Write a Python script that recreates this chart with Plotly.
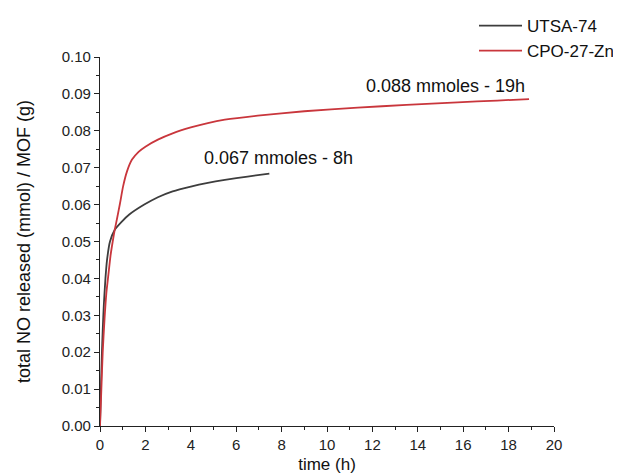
import plotly.graph_objects as go

# UTSA-74 release curve
utsa_t = [0, 0.04, 0.08, 0.12, 0.17, 0.24, 0.31, 0.44, 0.65, 0.93, 1.29, 1.95, 2.55, 3.2, 4.0, 4.75, 5.5, 6.5, 7.46]
utsa_y = [0, 0.010, 0.019, 0.026, 0.033, 0.040, 0.045, 0.050, 0.0532, 0.0552, 0.0573, 0.0600, 0.0620, 0.0636, 0.0649, 0.0659, 0.0667, 0.0676, 0.0684]

# CPO-27-Zn release curve
cpo_t = [0, 0.06, 0.12, 0.2, 0.28, 0.37, 0.46, 0.56, 0.65, 0.76, 0.88, 1.02, 1.19, 1.41, 1.7, 2.0, 2.55, 3.2, 4.0, 4.75, 5.5, 6.95, 9.0, 11.35, 13.5, 15.75, 17.5, 18.9]
cpo_y = [0, 0.010, 0.020, 0.029, 0.036, 0.041, 0.046, 0.050, 0.0532, 0.0565, 0.0603, 0.0650, 0.0690, 0.0722, 0.0743, 0.0757, 0.0776, 0.0793, 0.0809, 0.0821, 0.0830, 0.0841, 0.0853, 0.0863, 0.0870, 0.0877, 0.0882, 0.0886]

series_names = ["UTSA-74", "CPO-27-Zn"]
series_colors = ["#3d3d3d", "#c9363c"]

annot_text = ["0.067 mmoles - 8h", "0.088 mmoles - 19h"]
annot_x = [7.86, 15.2]
annot_y = [0.0725, 0.0922]

x_ticks = [0, 2, 4, 6, 8, 10, 12, 14, 16, 18, 20]
y_ticks = [0.00, 0.01, 0.02, 0.03, 0.04, 0.05, 0.06, 0.07, 0.08, 0.09, 0.10]

FONT = "Liberation Sans, Arial, sans-serif"

fig = go.Figure()
for t, y, name, col in zip([utsa_t, cpo_t], [utsa_y, cpo_y], series_names, series_colors):
    fig.add_trace(go.Scatter(x=t, y=y, mode="lines", name=name,
                             line=dict(color=col, width=1.8, shape="spline", smoothing=0.6)))

for txt, ax, ay in zip(annot_text, annot_x, annot_y):
    fig.add_annotation(x=ax, y=ay, text=txt, showarrow=False,
                       font=dict(family=FONT, size=18, color="#111111"))

axis_common = dict(showline=True, linecolor="#222222", linewidth=1.3,
                   ticks="outside", ticklen=5, tickwidth=1.3, tickcolor="#222222",
                   showgrid=False, zeroline=False, mirror=False,
                   tickfont=dict(family=FONT, size=15, color="#222222"))

fig.update_xaxes(range=[0, 20], tickvals=x_ticks, ticktext=[str(v) for v in x_ticks],
                 minor=dict(ticks="outside", ticklen=3, tickwidth=1.2, tickcolor="#222222", dtick=1),
                 title=dict(text="time (h)", font=dict(family=FONT, size=17, color="#111111"), standoff=5),
                 **axis_common)
fig.update_yaxes(range=[0, 0.10], tickvals=y_ticks, ticktext=[f"{v:.2f}" for v in y_ticks],
                 minor=dict(ticks="outside", ticklen=3, tickwidth=1.2, tickcolor="#222222", dtick=0.005),
                 title=dict(text="total NO released (mmol) / MOF (g)", font=dict(family=FONT, size=18, color="#111111"), standoff=26),
                 **axis_common)

fig.update_layout(
    width=621, height=474,
    margin=dict(l=92, r=75, t=49, b=56, autoexpand=False),
    paper_bgcolor="white", plot_bgcolor="white",
    showlegend=True,
    legend=dict(x=466/621, y=1 - 0/474, xref="container", yref="container",
                xanchor="left", yanchor="top", bgcolor="rgba(0,0,0,0)",
                font=dict(family=FONT, size=17, color="#111111"),
                tracegroupgap=0, itemwidth=43),
)

fig.write_html("out.html")
